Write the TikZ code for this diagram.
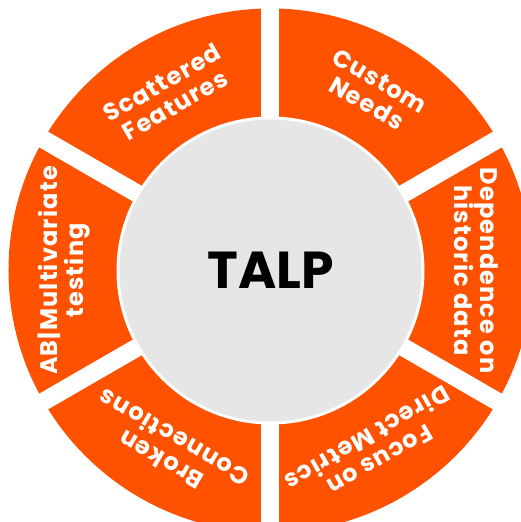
\documentclass[tikz,border=0pt]{standalone}
\usepackage{fontspec}
\setmainfont{Poppins}
\newfontfamily\segfont[LetterSpace=5]{Poppins}
\definecolor{talporange}{HTML}{FF5200}
\definecolor{talpgrey}{HTML}{E6E6E6}
\tikzstyle{ring}=[fill=talporange]
\tikzstyle{gapline}=[draw=white, line width=18pt]
\tikzstyle{seglabel}=[text=white, inner sep=0pt, align=center, font=\segfont\bfseries\fontsize{24}{26}\selectfont]
\tikzstyle{hub}=[circle, fill=talpgrey, inner sep=0pt, minimum size=302pt, font=\bfseries\fontsize{52}{52}\selectfont]

\begin{document}
\begin{tikzpicture}[x=1pt, y=1pt]
        \useasboundingbox (-270.5, -251.5) rectangle (250.5, 270.5);
        \clip (-270.5, -251.5) rectangle (250.5, 270.5);
        % orange ring cut into six parts
        \fill[ring] (0, 0) circle (262);
        \foreach \a in {30, 90, 150} {
            \draw[gapline] (\a:290) -- (\a+180:290);
        }
        \fill[white] (0, 0) circle (154);
        \node[hub] (talp) at (0, 0) {TALP};
        % labels, upright direction pointing outwards
        \node[seglabel, rotate=-30] (custom) at (60:206) {Custom\\Needs};
        \node[seglabel, rotate=30] (scattered) at (120:204) {Scattered\\Features};
        \node[seglabel, rotate=90] (abtest) at (180:206) {AB|Multivariate\\testing};
        \node[seglabel, rotate=150] (broken) at (240:206) {Broken\\Connections};
        \node[seglabel, rotate=210] (focus) at (300:206) {Focus on\\Direct Metrics};
        \node[seglabel, rotate=-90] (historic) at (0:206) {Dependence on\\historic data};
\end{tikzpicture}
\end{document}
